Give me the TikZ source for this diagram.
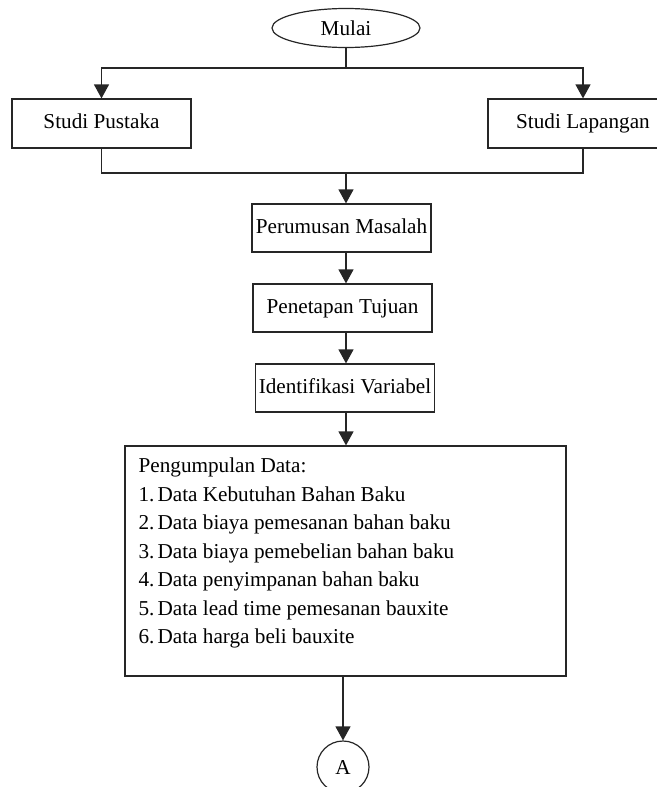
\documentclass[tikz,border=0pt]{standalone}
\usepackage{fontspec}
\setmainfont{Liberation Serif}
\usetikzlibrary{arrows.meta}
\usetikzlibrary{shapes.geometric}

\begin{document}
\begin{tikzpicture}[x=0.5pt, y=-0.5pt, line width=0.6pt, draw=black!85,
    font=\fontsize{10.6}{14.25}\selectfont,
    box/.style={draw, rectangle, minimum width=89.5pt, minimum height=24pt, inner sep=0pt,
      text height=7.4pt, text depth=2.3pt},
    arr/.style={-{Triangle[length=7pt,width=7.5pt]}}]
      \useasboundingbox (0,0) rectangle (657,787);
      \node[draw, ellipse, minimum width=74pt, minimum height=19.5pt, inner sep=0pt] (mulai) at (346,28) {Mulai};
      \node[box, minimum height=24.5pt] (pustaka) at (101.5,123.5) {Studi Pustaka};
      \node[box, minimum width=95pt, minimum height=24.5pt] (lapangan) at (583,123.5) {Studi Lapangan};
      \coordinate (split) at (346,68);
      \coordinate (join) at (346,173);
      \draw (mulai.south) -- (split);
      \draw[arr] (split) -| (pustaka.north);
      \draw[arr] (split) -| (lapangan.north);
      \draw (pustaka.south) |- (join);
      \draw (lapangan.south) |- (join);
      \node[box] (perumusan) at (341.5,228) {Perumusan Masalah};
      \node[box] (penetapan) at (342.5,308) {Penetapan Tujuan};
      \node[box] (identifikasi) at (345,388) {Identifikasi Variabel};
      \draw[arr] (join) -- (join |- perumusan.north);
      \draw[arr] (perumusan.south -| join) -- (penetapan.north -| join);
      \draw[arr] (penetapan.south -| join) -- (identifikasi.north -| join);
      % box for the collected data
      \node[box, minimum width=220.5pt, minimum height=115pt] (data) at (345.5,561) {};
      \draw[arr] (identifikasi.south -| join) -- (data.north -| join);
      \node[anchor=north west, align=left, inner sep=0pt] (datalist) at (138,457.5) {Pengumpulan Data:\\
        \makebox[9.5pt][l]{1.}Data Kebutuhan Bahan Baku\\
        \makebox[9.5pt][l]{2.}Data biaya pemesanan bahan baku\\
        \makebox[9.5pt][l]{3.}Data biaya pemebelian bahan baku\\
        \makebox[9.5pt][l]{4.}Data penyimpanan bahan baku\\
        \makebox[9.5pt][l]{5.}Data lead time pemesanan bauxite\\
        \makebox[9.5pt][l]{6.}Data harga beli bauxite};
      \node[draw, circle, minimum size=26pt, inner sep=0pt] (A) at (343,767) {A};
      \draw[arr] (data.south -| A) -- (A.north);
    \end{tikzpicture}
\end{document}
